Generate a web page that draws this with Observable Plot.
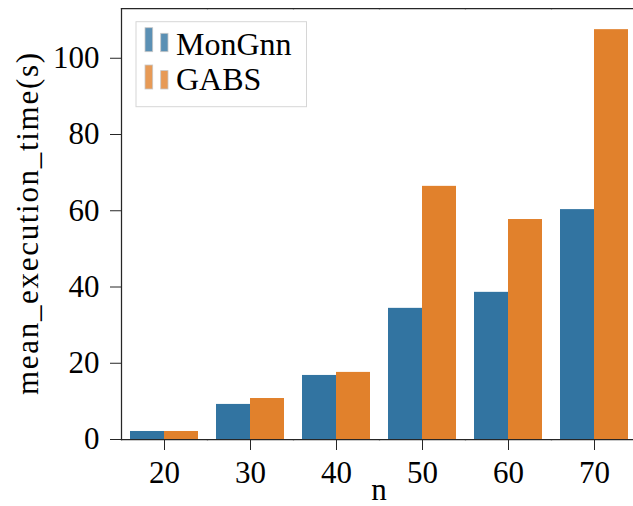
<!DOCTYPE html>
<html>
<head>
<meta charset="utf-8">
<script src="https://cdn.jsdelivr.net/npm/d3@7"></script>
<script src="https://cdn.jsdelivr.net/npm/@observablehq/plot@0.6"></script>
<style>
  html, body { margin: 0; padding: 0; background: white; }
</style>
</head>
<body>
<div id="chart"></div>
<script>
const ns = ["20", "30", "40", "50", "60", "70"];
const series = ["MonGnn", "GABS"];
const mongnn = [2.1, 9.2, 16.8, 34.4, 38.6, 60.3];
const gabs = [2.1, 10.75, 17.6, 66.4, 57.7, 107.5];
const yTicks = [0, 20, 40, 60, 80, 100];
const colors = ["#3274a1", "#e1812c"];
const yLabel = "mean_execution_time(s)";
const xLabel = "n";

const data = [];
ns.forEach((n, i) => {
  data.push({n, series: series[0], value: mongnn[i]});
  data.push({n, series: series[1], value: gabs[i]});
});

const spine = {stroke: "#262626", strokeWidth: 1.25};

const plot = Plot.plot({
  width: 633,
  height: 506,
  marginLeft: 120,
  marginRight: -5,
  marginTop: 8,
  marginBottom: 67,
  style: {fontFamily: "'Liberation Serif', serif", fontSize: "31px", color: "#000", background: "white", overflow: "visible"},
  fx: {domain: ns, padding: 0, label: null},
  x: {domain: series, paddingInner: 0, paddingOuter: 0.25, axis: null},
  y: {domain: [0, 113.05]},
  color: {domain: series, range: colors},
  marks: [
    Plot.barY(data, {fx: "n", x: "series", y: "value", fill: "series"}),
    Plot.frame({anchor: "top", ...spine}),
    Plot.frame({anchor: "bottom", ...spine}),
    Plot.frame({anchor: "left", facetAnchor: "left", ...spine}),
    Plot.axisFx({anchor: "bottom", tickSize: 11, tickPadding: 10, label: null, fontSize: 31, stroke: "#262626"}),
    Plot.axisY({ticks: yTicks, tickSize: 11, tickPadding: 11, label: null, fontSize: 31, stroke: "#262626"})
  ]
});

document.getElementById("chart").appendChild(plot);

const svg = d3.select(plot);

// axis titles
svg.append("text")
  .attr("transform", "translate(37.5,224) rotate(-90)")
  .attr("text-anchor", "middle")
  .attr("font-family", "'Liberation Serif', serif")
  .attr("font-size", 31)
  .attr("textLength", 342)
  .attr("lengthAdjust", "spacing")
  .attr("fill", "#000")
  .text(yLabel);

svg.append("text")
  .attr("x", 379)
  .attr("y", 500)
  .attr("text-anchor", "middle")
  .attr("font-family", "'Liberation Serif', serif")
  .attr("font-size", 31)
  .attr("fill", "#000")
  .text(xLabel);

// legend
const lg = svg.append("g").attr("text-anchor", "start");
lg.append("rect")
  .attr("x", 136).attr("y", 21.7).attr("width", 170.5).attr("height", 85)
  .attr("fill", "white").attr("fill-opacity", 0.8)
  .attr("stroke", "#d6d6d6").attr("stroke-width", 1);
series.forEach((s, i) => {
  const yb = 51.7 + i * 37.3;
  lg.append("rect")
    .attr("x", 145).attr("y", yb - 24).attr("width", 7.7).attr("height", 24)
    .attr("fill", colors[i]).attr("fill-opacity", 0.8)
    .attr("stroke", "#c8c8c8").attr("stroke-width", 0.8);
  lg.append("rect")
    .attr("x", 160.7).attr("y", yb - 18.4).attr("width", 7.3).attr("height", 18.4)
    .attr("fill", colors[i]).attr("fill-opacity", 0.8)
    .attr("stroke", "#c8c8c8").attr("stroke-width", 0.8);
  lg.append("text")
    .attr("x", 176).attr("y", 55 + i * 35)
    .attr("text-anchor", "start")
    .attr("font-family", "'Liberation Serif', serif")
    .attr("font-size", 32)
    .attr("fill", "#000")
    .text(s);
});
</script>
</body>
</html>
